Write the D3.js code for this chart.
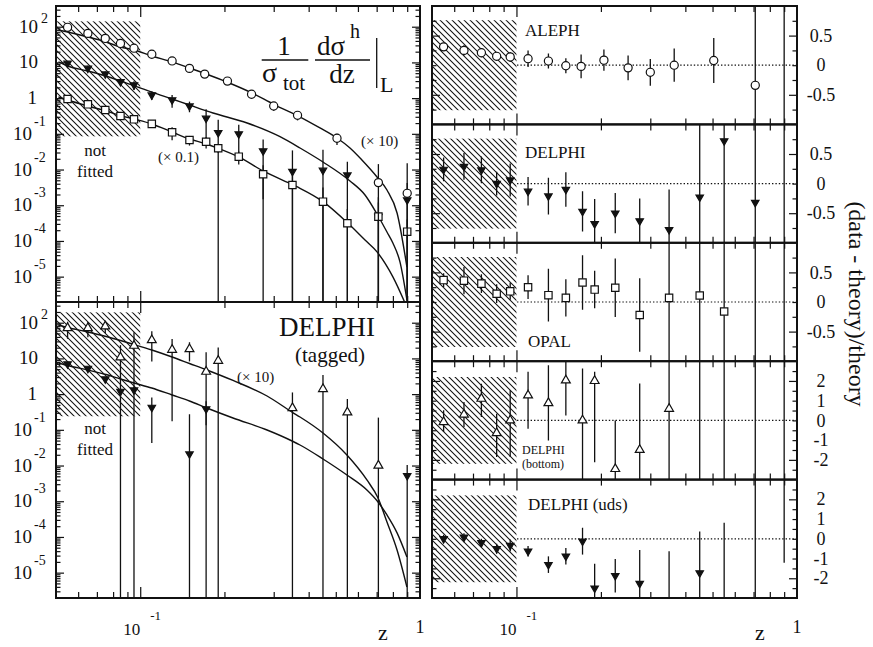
<!DOCTYPE html>
<html lang="en">
<head>
<meta charset="UTF-8">
<title>Hadron fragmentation fits</title>
<script src="https://d3js.org/d3.v7.min.js"></script>
<style>
  body { margin: 0; background: #fff; }
  svg text { font-family: "Liberation Serif", "Times New Roman", serif; fill: #111; }
</style>
</head>
<body>
<svg width="873" height="647"></svg>
<script>
// ---- data (values as plotted, ALEPH x10, OPAL x0.1, DELPHI tagged x10) ----
const zAleph = [0.055, 0.065, 0.075, 0.085, 0.095, 0.11, 0.13, 0.15, 0.17, 0.205, 0.25, 0.30, 0.365, 0.505, 0.71, 0.90];
const aleph = [96, 65, 47, 34, 25, 16.9, 11, 6.8, 4.7, 3.0, 1.28, 0.60, 0.33, 0.075, 0.0043, 0.00216];
const alephErr = [0.05, 0.07, 0.06, 0.05, 0.07, 0.13, 0.12, 0.13, 0.2, 0.17, 0.22, 0.26, 0.28, 0.35, 2.3, 5.9];
const alephRes = [0.31, 0.25, 0.21, 0.15, 0.14, 0.11, 0.07, -0.01, -0.02, 0.085, -0.045, -0.12, 0.0, 0.08, -0.34, 115];
const alephResErr = [0.07, 0.085, 0.076, 0.06, 0.085, 0.14, 0.127, 0.127, 0.2, 0.18, 0.21, 0.226, 0.28, 0.38, 1.6, 300];

const zDelphi = [0.055, 0.065, 0.075, 0.085, 0.095, 0.11, 0.13, 0.15, 0.172, 0.19, 0.225, 0.275, 0.35, 0.45, 0.55, 0.71, 0.90];
const delphi = [9.44, 6.84, 4.73, 2.88, 2.33, 1.22, 0.885, 0.60, 0.272, 0.108, 0.099, 0.033, 0.0088, 0.0095, 0.0070, 0.00048, 0.0014];
const delphiErr = [0.16, 0.175, 0.18, 0.2, 0.27, 0.27, 0.39, 0.33, 0.8, 1.3, 0.8, 1.1, 2.9, 2.8, 1.36, 2.5, 2.0];
const delphiRes = [0.24, 0.29, 0.23, 0.0, 0.06, -0.13, -0.21, -0.10, -0.47, -0.68, -0.50, -0.63, -0.78, -0.23, 0.72, -0.32, 5];
const delphiResErr = [0.2, 0.226, 0.226, 0.2, 0.28, 0.24, 0.31, 0.29, 0.34, 0.42, 0.34, 0.38, 0.68, 2, 2, 2, 10];

const opal = [0.944, 0.67, 0.465, 0.316, 0.255, 0.19, 0.110, 0.067, 0.060, 0.0394, 0.0229, 0.00736, 0.00369, 0.00126, 0.000313, 0.00048, 0.000182];
const opalErr = [0.08, 0.17, 0.12, 0.14, 0.12, 0.16, 0.4, 0.3, 0.35, 0.26, 0.4, 0.8, 1.5, 1.5, 1.5, 1.5, 1.2];
const opalRes = [0.37, 0.36, 0.31, 0.14, 0.18, 0.25, 0.115, 0.07, 0.33, 0.21, 0.24, -0.22, 0.07, 0.11, -0.16, 9, 100];
const opalResErr = [0.115, 0.23, 0.158, 0.158, 0.144, 0.2, 0.445, 0.316, 0.46, 0.316, 0.494, 0.62, 2, 2, 2, 20, 300];

// negative values are not shown in the log panels
const tagged = [71, 71, 79, 10.7, 22.7, 32.7, 17.5, 18.3, 4.25, 8.6, -1, -1, 0.408, 1.39, 0.308, 0.01, -1];
const taggedErr = [0.5, 0.45, 0.35, 1.2, 1.4, 0.75, 0.99, 0.55, 2.5, 1.35, 0, 0, 1.73, 1.46, 1.37, 21, 0];
const taggedRes = [-0.08, 0.3, 1.1, -0.64, 0.0, 1.27, 0.88, 2.03, 0.0, 2.0, -2.46, -1.49, 0.59, 16, 15, 7.7, -5];
const taggedResLo = [0.51, 0.64, 0.93, 1.22, 1.86, 1.69, 1.9, 1.78, 3.1, 4.12, 1, 2, 5, 30, 30, 170, 10];
const taggedResHi = [0.59, 0.63, 0.76, 0.98, 1.53, 1.19, 1.92, 1.5, 2.63, 0.46, 2.46, 3.36, 5, 30, 30, 170, 10];

const uds = [6.97, 5.25, 2.65, 1.19, 1.30, 0.425, -1, 0.021, 0.383, -1, -1, -1, -1, -1, -1, -1, 0.0052];
const udsErr = [0.1, 0.1, 0.1, 0.15, 0.2, 0.9, 0, 12, 0.65, 0, 0, 0, 0, 0, 0, 0, 1.0];
const udsRes = [0.0, 0.08, -0.2, -0.5, -0.34, -0.63, -1.31, -0.88, -0.12, -2.50, -1.87, -2.27, -4, -1.73, -4, -5, 5];
const udsResLo = [0.2, 0.2, 0.2, 0.25, 0.3, 0.27, 0.42, 0.42, 0.68, 1.24, 0.85, 1.7, 3.37, 2.1, 4.81, 10, 6.22];
const udsResHi = [0.2, 0.2, 0.2, 0.25, 0.3, 0.27, 0.42, 0.42, 0.68, 1.24, 0.85, 1.7, 3.37, 2.1, 4.81, 10, 5];

// fitted curves
const fitAlephZ = [0.051, 0.055, 0.065, 0.0755, 0.085, 0.095, 0.11, 0.13, 0.15, 0.172, 0.204, 0.251, 0.301, 0.363, 0.439, 0.505, 0.562, 0.62, 0.702, 0.762, 0.828, 0.898];
const fitAleph = [80.9, 71.1, 51.5, 37.3, 27.0, 22.3, 15.1, 10.3, 6.97, 4.73, 2.83, 1.39, 0.662, 0.330, 0.146, 0.0764, 0.0401, 0.0185, 0.00618, 0.00267, 0.000607, 1.86e-5];
const fitDelphiZ = [0.051, 0.055, 0.065, 0.0755, 0.085, 0.095, 0.11, 0.13, 0.15, 0.182, 0.241, 0.316, 0.3725, 0.45, 0.562, 0.636, 0.702, 0.762, 0.80, 0.848, 0.898];
const fitDelphi = [10.3, 7.94, 5.75, 4.16, 3.01, 2.25, 1.48, 0.945, 0.641, 0.383, 0.201, 0.0831, 0.0401, 0.01626, 0.00478, 0.00194, 0.000569, 0.000178, 8.77e-5, 2.58e-5, 2.22e-6];
const fitOpalZ = [0.051, 0.055, 0.065, 0.0755, 0.085, 0.095, 0.11, 0.13, 0.15, 0.17, 0.19, 0.224, 0.275, 0.352, 0.3725, 0.45, 0.553, 0.636, 0.702, 0.80, 0.891];
const fitOpal = [1.075, 0.886, 0.601, 0.435, 0.326, 0.260, 0.1886, 0.1125, 0.0717, 0.0536, 0.0393, 0.0229, 0.0091, 0.00369, 0.00298, 0.00126, 0.000312, 0.000106, 4.94e-5, 9.86e-6, 1.59e-6];
const fitTagZ = [0.051, 0.055, 0.065, 0.0755, 0.085, 0.095, 0.11, 0.13, 0.15, 0.173, 0.2146, 0.284, 0.352, 0.3725, 0.45, 0.548, 0.646, 0.708, 0.762, 0.828, 0.898];
const fitTagged = [86.2, 73.4, 54.9, 41.1, 31.7, 24.5, 17.2, 10.95, 7.2, 4.74, 2.41, 0.886, 0.30, 0.2287, 0.0815, 0.0197, 0.00394, 0.00123, 0.000262, 4.31e-5, 3.97e-6];
const fitUds = [7.44, 6.33, 4.74, 3.54, 2.65, 2.05, 1.48, 0.945, 0.642, 0.409, 0.2145, 0.0989, 0.0471, 0.0376, 0.01524, 0.00543, 0.00207, 0.000953, 0.000412, 0.00013, 2.75e-5];

// ticks
const xMajor = [0.1];
const xMinor = [0.06, 0.07, 0.08, 0.09, 0.2, 0.3, 0.4, 0.5, 0.6, 0.7, 0.8, 0.9];
const logExps = [2, 1, 0, -1, -2, -3, -4, -5];

// ---- layout ----
const svg = d3.select("svg");
const defs = svg.append("defs");

const hatch = defs.append("pattern")
    .attr("id", "hatch")
    .attr("patternUnits", "userSpaceOnUse")
    .attr("width", 6).attr("height", 6);
hatch.append("rect").attr("width", 6).attr("height", 6).attr("fill", "#fff");
hatch.append("path")
    .attr("d", "M-1,-1L7,7M-1,5L1,7M5,-1L7,1")
    .attr("stroke", "#111").attr("stroke-width", 1.05);

const xL = d3.scaleLog().domain([0.05, 1]).range([56, 420]);
const xR = d3.scaleLog().domain([0.05, 1]).range([432, 797]);
const yDom = [Math.pow(10, -5.71), Math.pow(10, 2.58)];
const yTop = d3.scaleLog().domain(yDom).range([302, 6]);
const yBot = d3.scaleLog().domain(yDom).range([598, 302]);

let clipCount = 0;
function panelGroup(x, y) {
    const id = "clip" + (clipCount++);
    const [x0, x1] = x.range();
    const [yb, yt] = y.range();
    defs.append("clipPath").attr("id", id)
        .append("rect").attr("x", x0).attr("y", yt).attr("width", x1 - x0).attr("height", yb - yt);
    return svg.append("g").attr("clip-path", `url(#${id})`);
}

function symbolPath(type) {
    if (type === "circle") return d3.symbol(d3.symbolCircle, 52)();
    if (type === "square") return d3.symbol(d3.symbolSquare, 54)();
    if (type === "down") return d3.symbol(d3.symbolTriangle, 24)();
    return d3.symbol(d3.symbolTriangle, 34)();
}

function drawMarkers(g, pts, type) {
    g.selectAll(null)
        .data(pts)
        .enter()
        .append("path")
        .attr("d", symbolPath(type))
        .attr("transform", d => `translate(${d[0]},${d[1]})` + (type === "down" ? " rotate(180)" : ""))
        .attr("fill", type === "down" ? "#111" : "#fff")
        .attr("stroke", "#111")
        .attr("stroke-width", 1.2);
}

// log panel points with relative errors
function logSeries(g, x, y, z, vals, rel, type) {
    const bottom = y.range()[0] + 3;
    const pts = [];
    z.forEach((zz, i) => {
        const v = vals[i];
        if (!(v > 0)) return;
        const lo = v * (1 - rel[i]);
        g.append("line")
            .attr("x1", x(zz)).attr("x2", x(zz))
            .attr("y1", y(v * (1 + rel[i])))
            .attr("y2", lo > 0 ? y(lo) : bottom)
            .attr("stroke", "#111").attr("stroke-width", 1.3);
        pts.push([x(zz), y(v)]);
    });
    drawMarkers(g, pts, type);
}

function fitLine(g, x, y, z, vals) {
    const line = d3.line()
        .x(d => x(d[0]))
        .y(d => y(d[1]))
        .curve(d3.curveMonotoneX);
    g.append("path")
        .datum(z.map((zz, i) => [zz, vals[i]]))
        .attr("d", line)
        .attr("fill", "none")
        .attr("stroke", "#111")
        .attr("stroke-width", 1.4);
}

function frameAndTicks(x, y, yMajor, yMinor) {
    const [x0, x1] = x.range();
    const [yb, yt] = y.range();
    const g = svg.append("g");
    const clean = s => s.select(".domain").remove();
    g.append("g").attr("transform", `translate(0,${yb})`)
        .call(d3.axisTop(x).tickValues(xMajor).tickSize(11).tickFormat("")).call(clean);
    g.append("g").attr("transform", `translate(0,${yb})`)
        .call(d3.axisTop(x).tickValues(xMinor).tickSize(6).tickFormat("")).call(clean);
    g.append("g").attr("transform", `translate(0,${yt})`)
        .call(d3.axisBottom(x).tickValues(xMajor).tickSize(11).tickFormat("")).call(clean);
    g.append("g").attr("transform", `translate(0,${yt})`)
        .call(d3.axisBottom(x).tickValues(xMinor).tickSize(6).tickFormat("")).call(clean);
    g.append("g").attr("transform", `translate(${x0},0)`)
        .call(d3.axisRight(y).tickValues(yMajor).tickSize(8).tickFormat("")).call(clean);
    g.append("g").attr("transform", `translate(${x0},0)`)
        .call(d3.axisRight(y).tickValues(yMinor).tickSize(4.5).tickFormat("")).call(clean);
    g.append("g").attr("transform", `translate(${x1},0)`)
        .call(d3.axisLeft(y).tickValues(yMajor).tickSize(8).tickFormat("")).call(clean);
    g.append("g").attr("transform", `translate(${x1},0)`)
        .call(d3.axisLeft(y).tickValues(yMinor).tickSize(4.5).tickFormat("")).call(clean);
    g.selectAll(".tick line").attr("stroke", "#111").attr("stroke-width", 1.2);
    svg.append("rect")
        .attr("x", x0).attr("y", yt).attr("width", x1 - x0).attr("height", yb - yt)
        .attr("fill", "none").attr("stroke", "#111").attr("stroke-width", 2);
}

function text(str, x, y, size, anchor) {
    return svg.append("text")
        .attr("x", x).attr("y", y)
        .attr("font-size", size)
        .attr("text-anchor", anchor || "start")
        .text(str);
}

function logLabels(y) {
    logExps.forEach(n => {
        const py = y(Math.pow(10, n));
        if (n === 0) { text("1", 37, py + 6, 19, "end"); return; }
        if (n === 1) { text("10", 38, py + 6, 19, "end"); return; }
        const neg = n < 0;
        text("10", neg ? 32 : 38, py + 6, 19, "end");
        text(String(n), neg ? 34 : 41, py + (neg ? -8 : -4), 14);
    });
}

function xLabels(x) {
    const [, x1] = x.range();
    text("10", x(0.1), 635, 17, "end");
    text("-1", x(0.1) + 10, 620, 13);
    text("z", x1 - 37, 640, 22, "middle");
    text("1", x1, 633, 18, "middle");
}

// ---- left log panels ----
const logMinor = [];
for (let n = -6; n <= 2; n++) for (let k = 2; k <= 9; k++) {
    const v = k * Math.pow(10, n);
    if (v > yDom[0] && v < yDom[1]) logMinor.push(v);
}
const logMajor = logExps.map(n => Math.pow(10, n));

function hatchLog(g, x, y, hi, lo) {
    g.append("rect")
        .attr("x", x(0.05)).attr("y", y(hi))
        .attr("width", x(0.1) - x(0.05)).attr("height", y(lo) - y(hi))
        .attr("fill", "url(#hatch)");
}

const gTop = panelGroup(xL, yTop);
hatchLog(gTop, xL, yTop, Math.pow(10, 2.15), Math.pow(10, -1.07));
fitLine(gTop, xL, yTop, fitAlephZ, fitAleph);
fitLine(gTop, xL, yTop, fitDelphiZ, fitDelphi);
fitLine(gTop, xL, yTop, fitOpalZ, fitOpal);
logSeries(gTop, xL, yTop, zDelphi, delphi, delphiErr, "down");
logSeries(gTop, xL, yTop, zDelphi, opal, opalErr, "square");
logSeries(gTop, xL, yTop, zAleph, aleph, alephErr, "circle");
frameAndTicks(xL, yTop, logMajor, logMinor);

const gBot = panelGroup(xL, yBot);
hatchLog(gBot, xL, yBot, Math.pow(10, 2.29), Math.pow(10, -0.62));
fitLine(gBot, xL, yBot, fitTagZ, fitTagged);
fitLine(gBot, xL, yBot, fitTagZ, fitUds);
logSeries(gBot, xL, yBot, zDelphi, uds, udsErr, "down");
logSeries(gBot, xL, yBot, zDelphi, tagged, taggedErr, "up");
frameAndTicks(xL, yBot, logMajor, logMinor);

logLabels(yTop);
logLabels(yBot);
xLabels(xL);

text("not", 95, 156, 17, "middle");
text("fitted", 95, 177, 17, "middle");
text("not", 95, 434, 17, "middle");
text("fitted", 95, 455, 17, "middle");
text("(\u00d7 10)", 361, 146, 15);
text("(\u00d7 0.1)", 158, 162, 15);
text("(\u00d7 10)", 237, 382, 15);
text("DELPHI", 327, 336, 27, "middle");
text("(tagged)", 330, 362, 21, "middle");

// 1/sigma_tot dsigma^h/dz |_L
text("1", 284, 55, 27, "middle");
text("\u03c3", 262, 82, 28);
text("tot", 283, 90, 21);
text("d\u03c3", 317, 55, 27);
text("h", 350, 38, 20);
text("dz", 342, 83, 27, "middle");
text("L", 380, 91.7, 22);
[[261.7, 308.3], [315, 370]].forEach(d => {
    svg.append("line").attr("x1", d[0]).attr("x2", d[1]).attr("y1", 60).attr("y2", 60)
        .attr("stroke", "#111").attr("stroke-width", 1.3);
});
svg.append("line").attr("x1", 376.7).attr("x2", 376.7).attr("y1", 38).attr("y2", 88)
    .attr("stroke", "#111").attr("stroke-width", 1.3);

// ---- right residual panels ----
const bandTop = 6, bandH = 118.4;
const resPanels = [
    { label: "ALEPH", z: zAleph, res: alephRes, lo: alephResErr, hi: alephResErr, type: "circle", lim: 1 },
    { label: "DELPHI", z: zDelphi, res: delphiRes, lo: delphiResErr, hi: delphiResErr, type: "down", lim: 1 },
    { label: "OPAL", z: zDelphi, res: opalRes, lo: opalResErr, hi: opalResErr, type: "square", lim: 1 },
    { label: "DELPHI (bottom)", z: zDelphi, res: taggedRes, lo: taggedResLo, hi: taggedResHi, type: "up", lim: 3 },
    { label: "DELPHI (uds)", z: zDelphi, res: udsRes, lo: udsResLo, hi: udsResHi, type: "down", lim: 3 }
];
const resTicks = {
    1: { major: [-0.5, 0.5], minor: [-0.75, -0.25, 0, 0.25, 0.75], labels: [0.5, 0, -0.5], hatch: 0.76 },
    3: { major: [-2, 2], minor: [-2.5, -1.5, -1, -0.5, 0, 0.5, 1, 1.5, 2.5], labels: [2, 1, 0, -1, -2], hatch: 2.2 }
};

resPanels.forEach((p, k) => {
    const t = bandTop + k * bandH;
    const y = d3.scaleLinear().domain([-p.lim, p.lim]).range([t + bandH, t]);
    const tk = resTicks[p.lim];
    const g = panelGroup(xR, y);

    g.append("line")
        .attr("x1", xR(0.05)).attr("x2", xR(1))
        .attr("y1", y(0)).attr("y2", y(0))
        .attr("stroke", "#111").attr("stroke-width", 1.2)
        .attr("stroke-dasharray", "1.4,2");
    g.append("rect")
        .attr("x", xR(0.05)).attr("y", y(tk.hatch))
        .attr("width", xR(0.1) - xR(0.05)).attr("height", y(-tk.hatch) - y(tk.hatch))
        .attr("fill", "url(#hatch)");

    p.z.forEach((zz, i) => {
        g.append("line")
            .attr("x1", xR(zz)).attr("x2", xR(zz))
            .attr("y1", y(Math.min(p.res[i] + p.hi[i], p.lim * 1.05)))
            .attr("y2", y(Math.max(p.res[i] - p.lo[i], -p.lim * 1.05)))
            .attr("stroke", "#111").attr("stroke-width", 1.3);
    });
    drawMarkers(g, p.z.map((zz, i) => [xR(zz), y(Math.max(Math.min(p.res[i], p.lim * 1.2), -p.lim * 1.2))]), p.type);

    frameAndTicks(xR, y, tk.major, tk.minor);
    tk.labels.forEach(v => {
        text(String(v), 821, y(v), 18, "middle").attr("dy", "0.34em");
    });
});

text("ALEPH", 525, 36, 17);
text("DELPHI", 525, 158, 17);
text("OPAL", 528, 347, 17);
text("DELPHI", 522, 454, 12);
text("(bottom)", 522, 468, 12);
text("DELPHI (uds)", 528, 510, 17);
xLabels(xR);

svg.append("text")
    .attr("transform", "translate(849,304) rotate(90)")
    .attr("text-anchor", "middle")
    .attr("font-size", 24)
    .text("(data - theory)/theory");
</script>
</body>
</html>
